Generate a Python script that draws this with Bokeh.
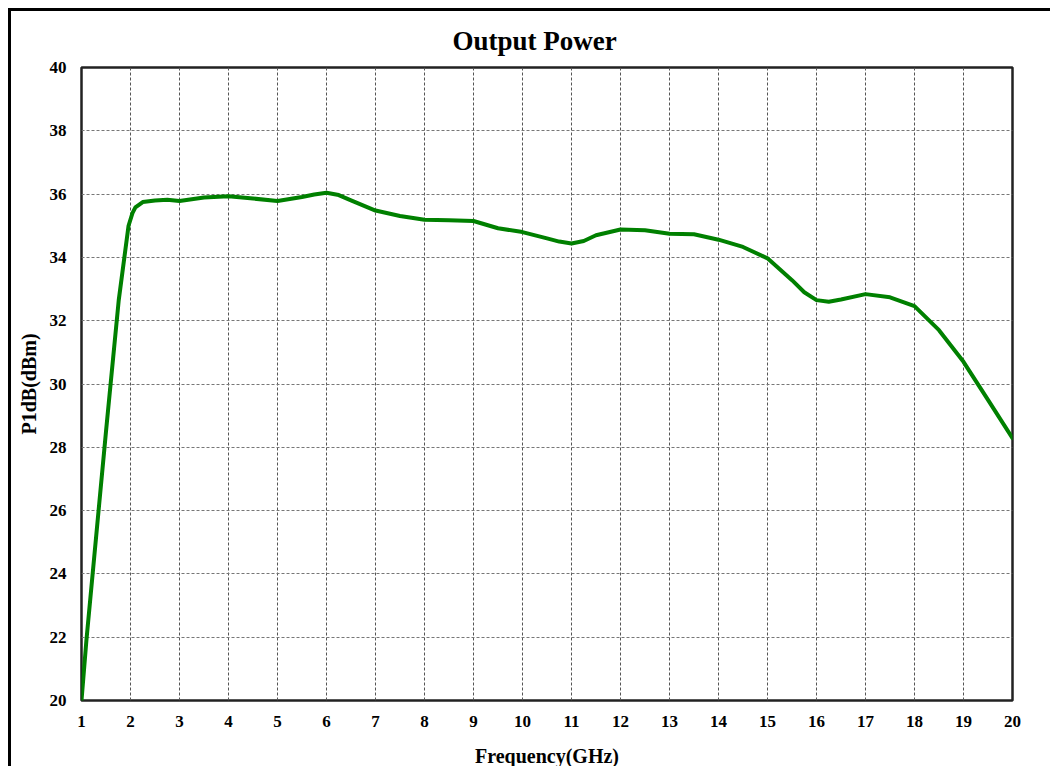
from bokeh.plotting import figure
from bokeh.models import Range1d, FixedTicker
from bokeh.embed import file_html
from bokeh.resources import INLINE

freq = [1, 1.1, 1.5, 1.76, 1.96, 2.04, 2.1, 2.25, 2.5, 2.75, 3, 3.25, 3.5, 4,
        4.5, 5, 5.5, 5.75, 6, 6.25, 6.5, 7, 7.5, 8, 8.5, 9, 9.5, 10, 10.5,
        10.75, 11, 11.25, 11.5, 12, 12.5, 13, 13.5, 14, 14.5, 15, 15.5, 15.75,
        16, 16.25, 16.5, 17, 17.5, 18, 18.5, 19, 19.5, 20]
p1db = [20, 21.9, 28.5, 32.65, 35.0, 35.4, 35.58, 35.75, 35.8, 35.82, 35.78,
        35.84, 35.89, 35.93, 35.86, 35.78, 35.91, 35.99, 36.04, 35.97, 35.8,
        35.48, 35.31, 35.19, 35.17, 35.15, 34.92, 34.8, 34.6, 34.5, 34.44,
        34.52, 34.7, 34.88, 34.86, 34.75, 34.73, 34.56, 34.33, 33.97, 33.28,
        32.9, 32.65, 32.6, 32.67, 32.84, 32.74, 32.46, 31.7, 30.7, 29.5, 28.29]

x_ticks = list(range(1, 21))
y_ticks = list(range(20, 41, 2))

FONT = "Liberation Serif"

p = figure(width=1042, height=758, output_backend="svg", toolbar_location=None,
           x_range=Range1d(1, 20), y_range=Range1d(20, 40),
           title="Output Power",
           min_border_left=70, min_border_top=56, min_border_right=41,
           min_border_bottom=68,
           styles={"border-top": "3px solid black",
                   "border-left": "3px solid black",
                   "margin-left": "8px", "margin-top": "8px"})

p.title.align = "left"
p.title.offset = 371
p.title.standoff = 20
p.title.vertical_align = "top"
p.title.text_font = FONT
p.title.text_font_size = "27px"
p.title.text_font_style = "bold"
p.title.text_color = "black"

p.outline_line_color = "#222222"
p.outline_line_width = 2.5

for ax in (p.xaxis[0], p.yaxis[0]):
    ax.axis_line_color = None
    ax.major_tick_line_color = None
    ax.minor_tick_line_color = None
    ax.major_tick_out = 0
    ax.major_tick_in = 0
    ax.minor_tick_out = 0
    ax.minor_tick_in = 0
    ax.major_label_text_font = FONT
    ax.major_label_text_font_style = "bold"
    ax.major_label_text_font_size = "17px"
    ax.major_label_text_color = "black"
    ax.axis_label_text_font = FONT
    ax.axis_label_text_font_style = "bold"
    ax.axis_label_text_font_size = "20px"
    ax.axis_label_text_color = "black"

p.xaxis.ticker = FixedTicker(ticks=x_ticks)
p.yaxis.ticker = FixedTicker(ticks=y_ticks)
p.xaxis.axis_label = "Frequency(GHz)"
p.yaxis.axis_label = "P1dB(dBm)"
p.xaxis.major_label_standoff = 15
p.yaxis.major_label_standoff = 15
p.xaxis.axis_label_standoff = 15
p.yaxis.axis_label_standoff = 7

p.xgrid.grid_line_color = "#555555"
p.xgrid.grid_line_dash = "3 2"
p.xgrid.grid_line_width = 1
p.ygrid.grid_line_color = "#777777"
p.ygrid.grid_line_dash = "3 2"
p.ygrid.grid_line_width = 1.2

p.line(freq, p1db, line_color="#008000", line_width=4, line_join="round",
       line_cap="round")

open("out.html", "w").write(file_html(p, INLINE))
